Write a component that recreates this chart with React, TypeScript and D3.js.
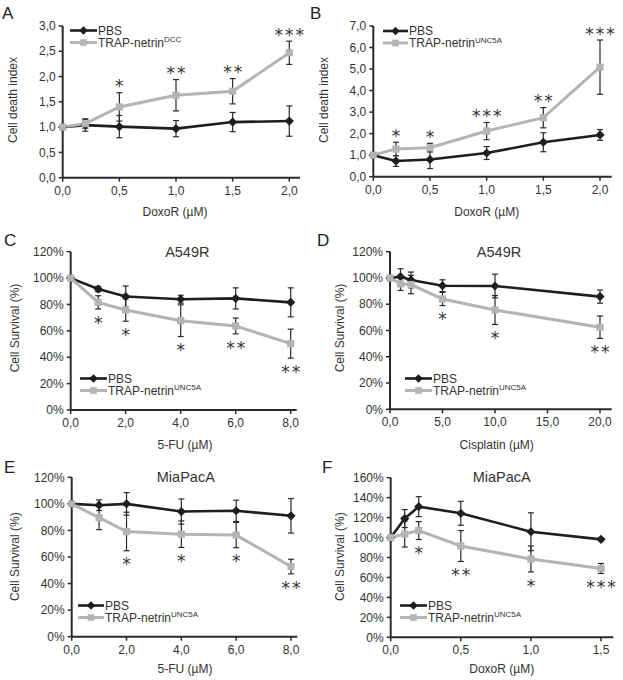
import React from "react";
import * as d3 from "d3";

// ---------- DATA ----------
const xA = [0, 0.2, 0.5, 1.0, 1.5, 2.0];
const pbsA = [1.0, 1.04, 1.01, 0.97, 1.1, 1.12];
const pbsAErr = [0, 0.12, 0.22, 0.16, 0.19, 0.3];
const trapA = [1.0, 1.07, 1.4, 1.63, 1.71, 2.47];
const trapAErr = [0, 0.09, 0.28, 0.31, 0.25, 0.23];
const starsA = ["", "", "*", "**", "**", "***"];

const xB = [0, 0.2, 0.5, 1.0, 1.5, 2.0];
const pbsB = [1.0, 0.73, 0.8, 1.1, 1.6, 1.94];
const pbsBErr = [0, 0.25, 0.42, 0.3, 0.44, 0.25];
const trapB = [1.0, 1.29, 1.35, 2.12, 2.74, 5.09];
const trapBErr = [0, 0.31, 0.2, 0.4, 0.47, 1.26];
const starsB = ["", "*", "*", "***", "**", "***"];

const xC = [0, 1, 2, 4, 6, 8];
const pbsC = [100, 91.7, 86, 84, 84.6, 81.6];
const pbsCErr = [0, 2, 8, 3, 8, 11];
const trapC = [100, 81.6, 75.8, 67.7, 63.7, 50.3];
const trapCErr = [0, 5, 8.5, 12, 6, 11];
const starsC = ["", "*", "*", "*", "**", "**"];

const xD = [0, 1, 2, 5, 10, 20];
const pbsD = [100, 101, 98.5, 94.1, 93.9, 85.8];
const pbsDErr = [0, 6, 6, 4.5, 9, 5];
const trapD = [100, 95.5, 95, 84, 75.6, 62.5];
const trapDErr = [0, 5, 7, 5, 11, 8.5];
const starsD = ["", "", "", "*", "*", "**"];

const xE = [0, 1, 2, 4, 6, 8];
const pbsE = [100, 99, 100, 94.2, 94.8, 91];
const pbsEErr = [0, 4, 8.5, 9.5, 8, 13];
const trapE = [100, 89.6, 79.2, 77.2, 76.5, 52.8];
const trapEErr = [0, 9, 14.5, 10, 9.5, 5.5];
const starsE = ["", "", "*", "*", "*", "**"];

const xF = [0, 0.1, 0.2, 0.5, 1.0, 1.5];
const pbsF = [100, 119, 131, 124.3, 105.8, 98.2];
const pbsFErr = [0, 9, 10, 12, 19, 1.5];
const trapF = [100, 103.5, 107, 91.5, 78.5, 69];
const trapFErr = [0, 13, 9, 15.5, 13, 5];
const starsF = ["", "", "*", "**", "*", "***"];

const seriesNames = ["PBS", "TRAP-netrin"];

const ticksA_x = [0, 0.5, 1.0, 1.5, 2.0];
const ticksA_y = [0, 0.5, 1.0, 1.5, 2.0, 2.5, 3.0];
const ticksB_y = [0, 1, 2, 3, 4, 5, 6, 7];
const ticksCE_x = [0, 2, 4, 6, 8];
const ticksD_x = [0, 5, 10, 15, 20];
const ticksF_x = [0, 0.5, 1.0, 1.5];
const ticksPct = [0, 20, 40, 60, 80, 100, 120];
const ticksPctF = [0, 20, 40, 60, 80, 100, 120, 140, 160];

// ---------- STYLE ----------
const FONT = "'Liberation Sans', Arial, sans-serif";
const STARFONT = "'DejaVu Sans', sans-serif";
const TXT = "#333";
const BLACK = "#1e1e1e";
const GRAY = "#b4b4b4";
const AXIS = "#2a2a2a";

const dec = (v: number) => d3.format(".1f")(v).replace(".", ",");
const pct = (v: number) => `${v}%`;

type Cfg = {
  letter: string; lx: number; ly: number;
  x: number[]; pbs: number[]; pbsErr: number[]; trap: number[]; trapErr: number[];
  stars: string[]; starsAbove: boolean;
  x0: number; xT: number; xTv: number; xEnd: number;
  y0: number; yT: number; yTv: number;
  xTicks: number[]; yTicks: number[]; yFmt: (v: number) => string;
  xTitle: string; xTitleX: number; xTitleY: number;
  yTitle: string; yTitleX: number; yTitleY: number;
  title?: string; titleX?: number; titleY?: number;
  legX1: number; legX2: number; legY1: number; legY2: number; sup: string;
};

const panels: Cfg[] = [
  { letter: "A", lx: 2, ly: 19, x: xA, pbs: pbsA, pbsErr: pbsAErr, trap: trapA, trapErr: trapAErr, stars: starsA, starsAbove: true,
    x0: 62.7, xT: 289.3, xTv: 2, xEnd: 300, y0: 177.7, yT: 26, yTv: 3, xTicks: ticksA_x, yTicks: ticksA_y, yFmt: dec,
    xTitle: "DoxoR (µM)", xTitleX: 175, xTitleY: 216, yTitle: "Cell death index", yTitleX: 13, yTitleY: 100,
    legX1: 70, legX2: 97, legY1: 30.5, legY2: 42.5, sup: "DCC" },
  { letter: "B", lx: 310, ly: 19, x: xB, pbs: pbsB, pbsErr: pbsBErr, trap: trapB, trapErr: trapBErr, stars: starsB, starsAbove: true,
    x0: 373.3, xT: 600, xTv: 2, xEnd: 611.7, y0: 176.7, yT: 26, yTv: 7, xTicks: ticksA_x, yTicks: ticksB_y, yFmt: dec,
    xTitle: "DoxoR (µM)", xTitleX: 486.7, xTitleY: 216, yTitle: "Cell death index", yTitleX: 323.3, yTitleY: 100,
    legX1: 383, legX2: 408, legY1: 31, legY2: 43, sup: "UNC5A" },
  { letter: "C", lx: 4, ly: 246, x: xC, pbs: pbsC, pbsErr: pbsCErr, trap: trapC, trapErr: trapCErr, stars: starsC, starsAbove: false,
    x0: 70.7, xT: 290.7, xTv: 8, xEnd: 296.7, y0: 410, yT: 251.7, yTv: 120, xTicks: ticksCE_x, yTicks: ticksPct, yFmt: pct,
    xTitle: "5-FU (µM)", xTitleX: 185, xTitleY: 449, yTitle: "Cell Survival (%)", yTitleX: 15, yTitleY: 328,
    title: "A549R", titleX: 187.3, titleY: 256.7,
    legX1: 80, legX2: 107, legY1: 378.5, legY2: 390.5, sup: "UNC5A" },
  { letter: "D", lx: 317, ly: 246, x: xD, pbs: pbsD, pbsErr: pbsDErr, trap: trapD, trapErr: trapDErr, stars: starsD, starsAbove: false,
    x0: 390, xT: 600, xTv: 20, xEnd: 611.7, y0: 409.3, yT: 251.7, yTv: 120, xTicks: ticksD_x, yTicks: ticksPct, yFmt: pct,
    xTitle: "Cisplatin (µM)", xTitleX: 496.7, xTitleY: 449, yTitle: "Cell Survival (%)", yTitleX: 340, yTitleY: 328,
    title: "A549R", titleX: 499, titleY: 256.7,
    legX1: 405, legX2: 432, legY1: 378.5, legY2: 390.5, sup: "UNC5A" },
  { letter: "E", lx: 4, ly: 473, x: xE, pbs: pbsE, pbsErr: pbsEErr, trap: trapE, trapErr: trapEErr, stars: starsE, starsAbove: false,
    x0: 71.7, xT: 291, xTv: 8, xEnd: 297.3, y0: 636.7, yT: 477.3, yTv: 120, xTicks: ticksCE_x, yTicks: ticksPct, yFmt: pct,
    xTitle: "5-FU (µM)", xTitleX: 185, xTitleY: 672.5, yTitle: "Cell Survival (%)", yTitleX: 15, yTitleY: 556.7,
    title: "MiaPacA", titleX: 185.8, titleY: 481.7,
    legX1: 78, legX2: 104, legY1: 605.5, legY2: 617.5, sup: "UNC5A" },
  { letter: "F", lx: 322, ly: 473, x: xF, pbs: pbsF, pbsErr: pbsFErr, trap: trapF, trapErr: trapFErr, stars: starsF, starsAbove: false,
    x0: 390.7, xT: 601, xTv: 1.5, xEnd: 613.3, y0: 637.3, yT: 477.7, yTv: 160, xTicks: ticksF_x, yTicks: ticksPctF, yFmt: pct,
    xTitle: "DoxoR (µM)", xTitleX: 501.7, xTitleY: 672.5, yTitle: "Cell Survival (%)", yTitleX: 340, yTitleY: 556.7,
    title: "MiaPacA", titleX: 501.7, titleY: 482.3,
    legX1: 400, legX2: 427, legY1: 605.5, legY2: 617.5, sup: "UNC5A" },
];

const diamond = (cx: number, cy: number, r: number) =>
  `M${cx},${cy - r}L${cx + r},${cy}L${cx},${cy + r}L${cx - r},${cy}Z`;

function Panel({ c }: { c: Cfg }) {
  const xs = d3.scaleLinear().domain([0, c.xTv]).range([c.x0, c.xT]);
  const ys = d3.scaleLinear().domain([0, c.yTv]).range([c.y0, c.yT]);
  const line = d3.line<[number, number]>().x((d) => xs(d[0])).y((d) => ys(d[1]));
  const pbsPts = c.x.map((v, i) => [v, c.pbs[i]] as [number, number]);
  const trapPts = c.x.map((v, i) => [v, c.trap[i]] as [number, number]);
  const cap = 3;
  const errBars = (vals: number[], errs: number[], key: string) =>
    c.x.map((v, i) => {
      if (!errs[i]) return null;
      const px = xs(v);
      const t = ys(vals[i] + errs[i]);
      const b = ys(vals[i] - errs[i]);
      return (
        <g key={key + i} stroke={AXIS} strokeWidth={1.2}>
          <line x1={px} x2={px} y1={t} y2={b} />
          <line x1={px - cap} x2={px + cap} y1={t} y2={t} />
          <line x1={px - cap} x2={px + cap} y1={b} y2={b} />
        </g>
      );
    });
  const starSize = 17;
  const starGap = 10.5;
  return (
    <g>
      <text x={c.lx} y={c.ly} fontSize={17} fill="#222" fontFamily={FONT}>{c.letter}</text>
      {c.title && (
        <text x={c.titleX} y={c.titleY} fontSize={14.5} fill={TXT} textAnchor="middle" fontFamily={FONT}>{c.title}</text>
      )}
      {/* axes */}
      <line x1={c.x0} x2={c.x0} y1={ys(c.yTv)} y2={c.y0} stroke={AXIS} strokeWidth={2} />
      <line x1={c.x0} x2={c.xEnd} y1={c.y0} y2={c.y0} stroke={AXIS} strokeWidth={2} />
      {c.yTicks.map((t) => (
        <g key={"yt" + t}>
          <line x1={c.x0 - 4} x2={c.x0} y1={ys(t)} y2={ys(t)} stroke={AXIS} strokeWidth={1.5} />
          <text x={c.x0 - 7} y={ys(t)} dy="0.35em" textAnchor="end" fontSize={12} fill={TXT} fontFamily={FONT}>{c.yFmt(t)}</text>
        </g>
      ))}
      {c.xTicks.map((t) => (
        <g key={"xt" + t}>
          <line x1={xs(t)} x2={xs(t)} y1={c.y0} y2={c.y0 + 4} stroke={AXIS} strokeWidth={1.5} />
          <text x={xs(t)} y={c.y0 + 17} textAnchor="middle" fontSize={12} fill={TXT} fontFamily={FONT}>{dec(t)}</text>
        </g>
      ))}
      <text x={c.xTitleX} y={c.xTitleY} textAnchor="middle" fontSize={12} fill={TXT} fontFamily={FONT}>{c.xTitle}</text>
      <text transform={`translate(${c.yTitleX},${c.yTitleY}) rotate(-90)`} dy="0.35em" textAnchor="middle" fontSize={12} fill={TXT} fontFamily={FONT}>{c.yTitle}</text>
      {/* series */}
      <path d={line(pbsPts) || ""} fill="none" stroke={BLACK} strokeWidth={2.6} />
      <path d={line(trapPts) || ""} fill="none" stroke={GRAY} strokeWidth={3} />
      {errBars(c.pbs, c.pbsErr, "pe")}
      {errBars(c.trap, c.trapErr, "te")}
      {pbsPts.map((p, i) => (
        <path key={"pm" + i} d={diamond(xs(p[0]), ys(p[1]), 4.6)} fill={BLACK} />
      ))}
      {trapPts.map((p, i) => (
        <rect key={"tm" + i} x={xs(p[0]) - 3.6} y={ys(p[1]) - 3.6} width={7.2} height={7.2} fill={GRAY} />
      ))}
      {/* stars */}
      {c.x.map((v, i) => {
        const s = c.stars[i];
        if (!s) return null;
        const cy = c.starsAbove ? ys(c.trap[i] + c.trapErr[i]) - 10 : ys(c.trap[i] - c.trapErr[i]) + 10;
        const n = s.length;
        const cx = xs(v);
        return (
          <g key={"st" + i}>
            {d3.range(n).map((k) => (
              <text key={k} x={cx + (k - (n - 1) / 2) * starGap} y={cy + 0.57 * starSize} textAnchor="middle"
                fontSize={starSize} fill="#333" fontFamily={STARFONT}>*</text>
            ))}
          </g>
        );
      })}
      {/* legend */}
      <line x1={c.legX1} x2={c.legX2} y1={c.legY1} y2={c.legY1} stroke={BLACK} strokeWidth={2.6} />
      <path d={diamond((c.legX1 + c.legX2) / 2, c.legY1, 4.2)} fill={BLACK} />
      <text x={c.legX2 + 1} y={c.legY1} dy="0.36em" fontSize={12} fill={TXT} fontFamily={FONT}>{seriesNames[0]}</text>
      <line x1={c.legX1} x2={c.legX2} y1={c.legY2} y2={c.legY2} stroke={GRAY} strokeWidth={3} />
      <rect x={(c.legX1 + c.legX2) / 2 - 3.3} y={c.legY2 - 3.3} width={6.6} height={6.6} fill={GRAY} />
      <text x={c.legX2 + 1} y={c.legY2} dy="0.36em" fontSize={12} fill={TXT} fontFamily={FONT}>
        {seriesNames[1]}
        <tspan fontSize={8} dy="-4.5">{c.sup}</tspan>
      </text>
    </g>
  );
}

export default function App() {
  return (
    <svg width={623} height={680} viewBox="0 0 623 680"
      style={{ display: "block", background: "#fff", position: "absolute", left: 0, top: 0 }}>
      <rect width={623} height={680} fill="#fff" />
      {panels.map((c) => (
        <Panel key={c.letter} c={c} />
      ))}
    </svg>
  );
}
